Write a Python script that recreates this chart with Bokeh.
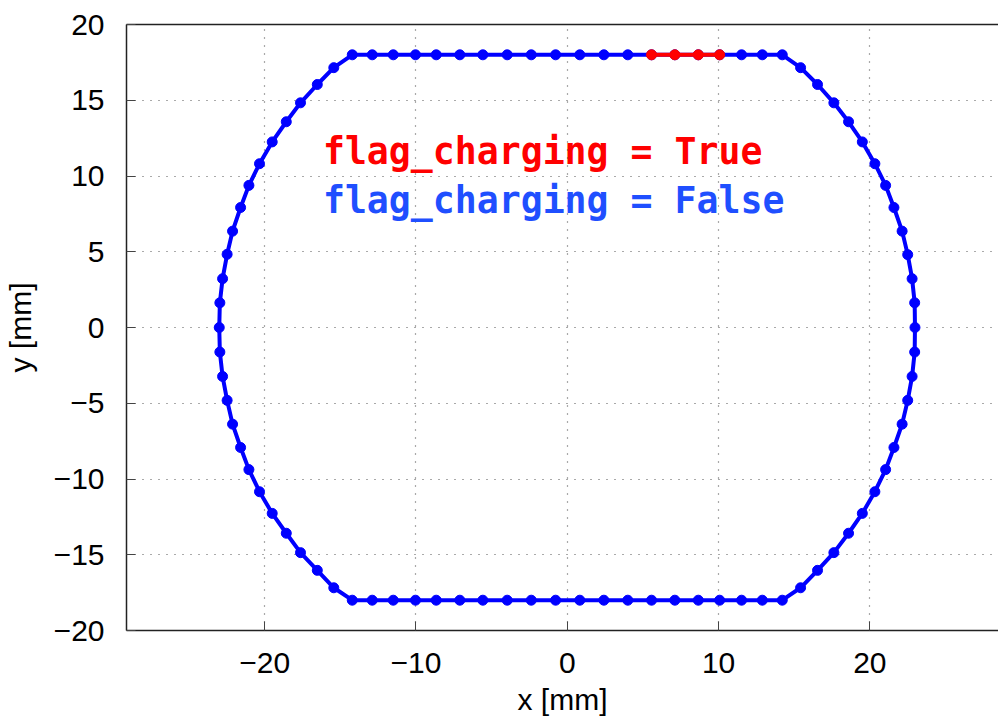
from bokeh.plotting import figure
from bokeh.models import Range1d, FixedTicker, LinearAxis, Label
from bokeh.embed import file_html
from bokeh.resources import INLINE

# ---- data (mm) ----
top_x = [-14.21, -12.89, -11.50, -10.03, -8.66, -7.10, -5.58, -3.97, -2.38, -0.77,
         0.83, 2.42, 4.00, 5.57, 7.11, 8.66, 10.07, 11.52, 12.89, 14.21]
top_y = [18.0] * 20

right_x = [15.42, 16.54, 17.62, 18.59, 19.50, 20.33, 21.04, 21.59, 22.13, 22.50, 22.79, 22.96, 22.98,
           22.96, 22.79, 22.50, 22.13, 21.59, 21.04, 20.33, 19.50, 18.59, 17.62, 16.54, 15.42]
right_y = [17.15, 16.04, 14.83, 13.58, 12.25, 10.81, 9.38, 7.92, 6.36, 4.81, 3.22, 1.63, 0.0,
           -1.62, -3.23, -4.81, -6.38, -7.92, -9.38, -10.84, -12.27, -13.58, -14.86, -16.03, -17.18]

bottom_x = [14.21, 12.89, 11.52, 10.07, 8.66, 7.11, 5.57, 4.00, 2.42, 0.83,
            -0.77, -2.38, -3.97, -5.58, -7.10, -8.66, -10.03, -11.50, -12.89, -14.21]
bottom_y = [-18.0] * 20

left_x = [-15.43, -16.52, -17.63, -18.57, -19.50, -20.34, -21.04, -21.59, -22.12, -22.48, -22.78, -22.96, -23.00,
          -22.96, -22.78, -22.48, -22.12, -21.59, -21.04, -20.34, -19.50, -18.57, -17.63, -16.52, -15.43]
left_y = [-17.18, -16.03, -14.86, -13.58, -12.27, -10.84, -9.38, -7.92, -6.38, -4.81, -3.23, -1.62, 0.0,
          1.63, 3.22, 4.83, 6.36, 7.92, 9.38, 10.81, 12.25, 13.58, 14.83, 16.04, 17.15]

charging_x = [5.57, 7.11, 8.66, 10.07]
charging_y = [18.0, 18.0, 18.0, 18.0]

x_ticks = [-20, -10, 0, 10, 20]
y_ticks = [-20, -15, -10, -5, 0, 5, 10, 15, 20]

label_true = "flag_charging = True"
label_false = "flag_charging = False"

# closed path
path_x = top_x + right_x + bottom_x + left_x + [top_x[0]]
path_y = top_y + right_y + bottom_y + left_y + [top_y[0]]

p = figure(width=998, height=718, output_backend="svg", toolbar_location=None,
           x_range=Range1d(-29.13, 28.5), y_range=Range1d(-20, 20),
           min_border_left=10, min_border_right=0, min_border_top=24, min_border_bottom=10)
p.outline_line_color = None
p.background_fill_color = "white"
p.border_fill_color = "white"

TICK_FONT = "Liberation Sans"

def minus(v):
    s = str(v)
    return s.replace("-", "\u2212")

p.xaxis.ticker = FixedTicker(ticks=x_ticks)
p.yaxis.ticker = FixedTicker(ticks=y_ticks)
p.xaxis.major_label_overrides = {v: minus(v) for v in x_ticks}
p.yaxis.major_label_overrides = {v: minus(v) for v in y_ticks}

for ax in (p.xaxis[0], p.yaxis[0]):
    ax.major_label_text_font = TICK_FONT
    ax.major_label_text_font_size = "30px"
    ax.major_label_text_color = "black"
    ax.axis_label_text_font = TICK_FONT
    ax.axis_label_text_font_size = "30px"
    ax.axis_label_text_font_style = "normal"
    ax.axis_label_text_color = "black"
    ax.axis_line_color = "#222222"
    ax.axis_line_width = 1.5
    ax.major_tick_in = 9
    ax.major_tick_out = 0
    ax.major_tick_line_color = "#444444"
    ax.minor_tick_line_color = None

p.xaxis.axis_label = "x [mm]"
p.yaxis.axis_label = "y [mm]"
p.xaxis.major_label_standoff = 22
p.xaxis.axis_label_standoff = 7
p.yaxis.major_label_standoff = 22
p.yaxis.axis_label_standoff = 14

top_axis = LinearAxis(ticker=FixedTicker(ticks=[]), axis_line_color="#222222", axis_line_width=1.5,
                      major_tick_line_color=None, minor_tick_line_color=None,
                      major_label_text_font_size="0px", major_label_standoff=0)
p.add_layout(top_axis, "above")

p.xgrid.ticker = FixedTicker(ticks=x_ticks)
p.ygrid.ticker = FixedTicker(ticks=y_ticks)
for g in (p.xgrid[0], p.ygrid[0]):
    g.grid_line_color = "#555555"
    g.grid_line_dash = "1 7"
    g.grid_line_width = 1.2

p.line(path_x, path_y, line_color="#0000ff", line_width=4)
p.scatter(path_x[:-1], path_y[:-1], size=10, fill_color="#0000ff", line_color="#0000ff")
p.line(charging_x, charging_y, line_color="#ff0000", line_width=4)
p.scatter(charging_x, charging_y, size=10, fill_color="#ff0000", line_color="#ff0000")

p.add_layout(Label(x=-16.15, y=11.6, text=label_true, text_font="DejaVu Sans Mono",
                   text_font_style="bold", text_font_size="36.5px", text_color="#ff0000",
                   text_baseline="alphabetic", text_align="left"))
p.add_layout(Label(x=-16.15, y=8.35, text=label_false, text_font="DejaVu Sans Mono",
                   text_font_style="bold", text_font_size="36.5px", text_color="#1f4fff",
                   text_baseline="alphabetic", text_align="left"))

open("out.html", "w").write(file_html(p, INLINE))
